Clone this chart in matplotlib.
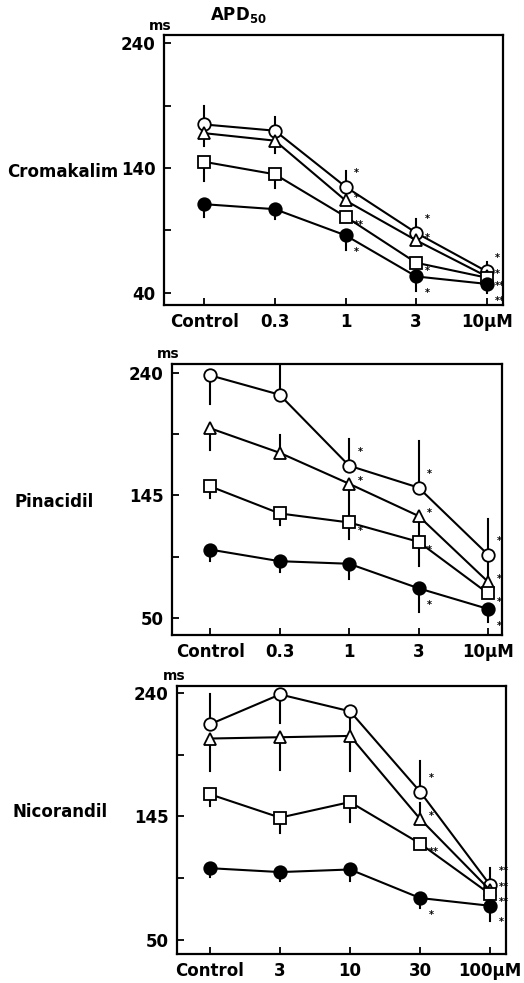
import matplotlib.pyplot as plt

# APD50 (ms); error bars signed (+ drawn up, - drawn down)
drugs = ["Cromakalim", "Pinacidil", "Nicorandil"]
x_labels = [
	["Control", "0.3", "1", "3", "10µM"],
	["Control", "0.3", "1", "3", "10µM"],
	["Control", "3", "10", "30", "100µM"],
]
y_ticks = [[40, 140, 240], [50, 145, 240], [50, 145, 240]]

# Cromakalim
crom_circle = [175, 170, 125, 88, 57]
crom_circle_err = [15, 11, 13, 11, 8]
crom_triangle = [168, 162, 114, 82, 53]
crom_triangle_err = [-10, -10, 0, 0, 0]
crom_square = [145, 135, 101, 64, 52]
crom_square_err = [-15, -11, 0, 0, 0]
crom_filled = [111, 107, 86, 53, 47]
crom_filled_err = [-10, -8, -12, -12, -7]

# Pinacidil
pina_circle = [238, 223, 168, 151, 99]
pina_circle_err = [-22, 25, 21, 36, 28]
pina_triangle = [197, 178, 154, 129, 78]
pina_triangle_err = [-17, 14, -29, -18, 20]
pina_square = [152, 131, 124, 109, 69]
pina_square_err = [-9, -9, -13, -19, 0]
pina_filled = [103, 94, 92, 73, 57]
pina_filled_err = [-9, -8, -12, -18, -10]

# Nicorandil
nico_circle = [216, 239, 226, 164, 92]
nico_circle_err = [23, -22, -29, 24, 13]
nico_triangle = [205, 206, 207, 143, 88]
nico_triangle_err = [-25, -25, -27, 12, 0]
nico_square = [162, 144, 156, 124, 85]
nico_square_err = [-9, -12, -15, -4, 0]
nico_filled = [105, 102, 104, 82, 76]
nico_filled_err = [-7, -7, -9, -8, -12]

# significance marks
crom_stars = [["", "", "*", "*", "*"], ["", "", "*", "*", "*"], ["", "", "**", "*", "**"], ["", "", "*", "*", "**"]]
pina_stars = [["", "", "*", "*", "*"], ["", "", "*", "*", "*"], ["", "", "*", "*", "*"], ["", "", "", "*", "*"]]
nico_stars = [["", "", "", "*", "**"], ["", "", "", "*", "**"], ["", "", "", "**", "**"], ["", "", "", "*", "*"]]

panels = [
	([crom_circle, crom_triangle, crom_square, crom_filled],
	 [crom_circle_err, crom_triangle_err, crom_square_err, crom_filled_err], crom_stars),
	([pina_circle, pina_triangle, pina_square, pina_filled],
	 [pina_circle_err, pina_triangle_err, pina_square_err, pina_filled_err], pina_stars),
	([nico_circle, nico_triangle, nico_square, nico_filled],
	 [nico_circle_err, nico_triangle_err, nico_square_err, nico_filled_err], nico_stars),
]

markers = [("o", "white"), ("^", "white"), ("s", "white"), ("o", "black")]
star_offsets = [(6, 10), (6, 2), (6, -6), (6, -12)]

rects = [
	[0.313, 0.690, 0.647, 0.274],
	[0.328, 0.354, 0.630, 0.276],
	[0.338, 0.030, 0.628, 0.272],
]
ylims = [(30.3, 246.5), (36.8, 247), (39.2, 245.4)]
xlims = [(-0.57, 4.23), (-0.55, 4.2), (-0.47, 4.23)]
label_pos = [(7, 172), (15, 502), (13, 812)]

plt.rcParams["font.family"] = "DejaVu Sans"
plt.rcParams["font.weight"] = "bold"

fig = plt.figure(figsize=(5.24, 9.83), dpi=100)

for i, (series, errs, stars) in enumerate(panels):
	ax = fig.add_axes(rects[i])
	x = list(range(len(x_labels[i])))
	for s, (vals, err, st) in enumerate(zip(series, errs, stars)):
		for xi, v, e in zip(x, vals, err):
			if e != 0:
				ax.plot([xi, xi], [v, v + e], color="black", lw=1.5, zorder=2)
		ax.plot(x, vals, color="black", lw=1.5, marker=markers[s][0],
				markerfacecolor=markers[s][1], markeredgecolor="black",
				markeredgewidth=1.3, markersize=9, zorder=3)
		for xi, v, t in zip(x, vals, st):
			if t:
				ax.annotate(t, (xi, v), xytext=star_offsets[s], textcoords="offset points",
							fontsize=7, ha="left", va="center")
	ax.set_xlim(*xlims[i])
	ax.set_ylim(*ylims[i])
	lo, mid, hi = y_ticks[i]
	ax.set_yticks([lo, (lo + mid) / 2, mid, (mid + hi) / 2, hi],
				  [str(lo), "", str(mid), "", str(hi)])
	ax.set_xticks(x, x_labels[i])
	ax.tick_params(direction="in", length=5, width=1.3, labelsize=12, pad=6)
	for sp in ax.spines.values():
		sp.set_linewidth(1.6)
	ax.text(-0.01, 1.01, "ms", transform=ax.transAxes, fontsize=10,
			fontweight="bold", ha="center", va="bottom")
	fig.text(label_pos[i][0] / 524, 1 - label_pos[i][1] / 983, drugs[i], fontsize=12,
			 fontweight="bold", ha="left", va="center")

fig.text(0.4, 1 - 15 / 983, r"APD$_\mathbf{50}$", fontsize=12, fontweight="bold",
		 ha="left", va="center")

fig.savefig("out.png", dpi=100)
